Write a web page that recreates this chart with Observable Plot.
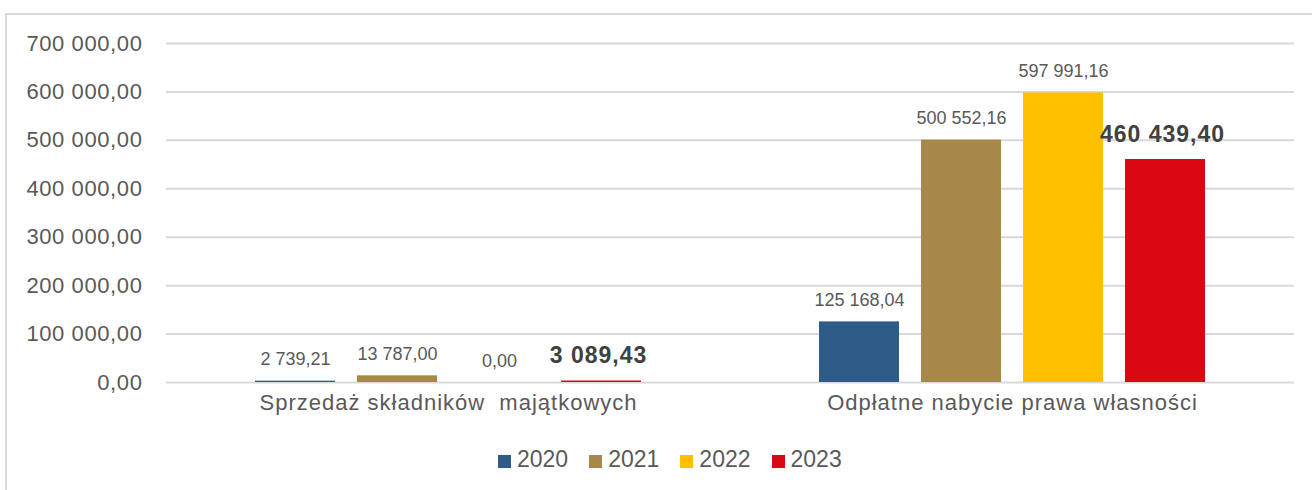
<!DOCTYPE html>
<html>
<head>
<meta charset="utf-8">
<script src="https://cdn.jsdelivr.net/npm/d3@7"></script>
<script src="https://cdn.jsdelivr.net/npm/@observablehq/plot@0.6"></script>
<style>
  html, body { margin: 0; padding: 0; background: #fff; }
  body { width: 1312px; height: 490px; position: relative; overflow: hidden; font-family: "Liberation Sans", Arial, sans-serif; }
  #frame { position: absolute; left: 5px; top: 13px; right: -10px; bottom: -10px; border-top: 2px solid #d9d9d9; border-left: 2px solid #d9d9d9; }
  #chart { position: absolute; left: 0; top: 0; }
  #chart svg text { white-space: pre; }
  .yax text { letter-spacing: 0.6px; }
  .fxax text { letter-spacing: 1px; }
  .boldlab text { letter-spacing: 1px; }
  #legend { position: absolute; left: 498px; top: 448px; display: flex; font-size: 23px; line-height: 23px; color: #595959; }
  #legend .item { display: flex; align-items: center; margin-right: 21px; }
  #legend .sw { width: 13px; height: 13px; margin-right: 6px; margin-top: 3px; }
</style>
</head>
<body>
<div id="frame"></div>
<div id="chart"></div>
<div id="legend"></div>
<script>
const groups = ["Sprzedaż składników  majątkowych", "Odpłatne nabycie prawa własności"];
const years = ["2020", "2021", "2022", "2023"];
const v2020 = [2739.21, 125168.04];
const v2021 = [13787.00, 500552.16];
const v2022 = [0.00, 597991.16];
const v2023 = [3089.43, 460439.40];
const yTicks = [0, 100000, 200000, 300000, 400000, 500000, 600000, 700000];
const colors = ["#2e5b87", "#a8884a", "#ffc000", "#da0812"];

const series = [v2020, v2021, v2022, v2023];
const data = [];
years.forEach((yr, i) => groups.forEach((g, j) => data.push({group: g, year: yr, value: series[i][j]})));
const normal = data.filter(d => d.year !== "2023");
const bold = data.filter(d => d.year === "2023");

const pl = d3.formatLocale({decimal: ",", thousands: "\u00a0", grouping: [3], currency: ["", ""]});
const fmt = pl.format(",.2f");

const chart = Plot.plot({
  width: 1312,
  height: 440,
  marginLeft: 166,
  marginRight: 18,
  marginTop: 43,
  marginBottom: 58,
  style: {fontFamily: "'Liberation Sans', Arial, sans-serif", background: "transparent"},
  fx: {domain: groups, padding: 0},
  x: {domain: years, paddingInner: 0.215, paddingOuter: 0.85, axis: null},
  y: {domain: [0, 700000], axis: null},
  color: {domain: years, range: colors},
  marks: [
    Plot.gridY(yTicks, {stroke: "#d9d9d9", strokeOpacity: 1, strokeWidth: 2}),
    Plot.axisY(yTicks, {tickSize: 0, tickPadding: 24, fontSize: 22, fill: "#595959", tickFormat: fmt, label: null, className: "yax"}),
    Plot.axisFx({anchor: "bottom", tickSize: 0, tickPadding: 12, fontSize: 22, fill: "#595959", label: null, className: "fxax"}),
    Plot.barY(data, {fx: "group", x: "year", y: "value", fill: "year"}),
    Plot.text(normal, {fx: "group", x: "year", y: "value", text: d => fmt(d.value), dy: -16, lineAnchor: "bottom", fontSize: 18, fill: "#595959"}),
    Plot.text(bold, {fx: "group", x: "year", y: "value", text: d => fmt(d.value), dy: -18, dx: -3, lineAnchor: "bottom", fontSize: 23, fontWeight: "bold", fill: "#404040", className: "boldlab"})
  ]
});
document.getElementById("chart").appendChild(chart);

const legend = document.getElementById("legend");
years.forEach((yr, i) => {
  const it = document.createElement("div");
  it.className = "item";
  const sw = document.createElement("span");
  sw.className = "sw";
  sw.style.background = colors[i];
  const t = document.createElement("span");
  t.textContent = yr;
  it.appendChild(sw);
  it.appendChild(t);
  legend.appendChild(it);
});
</script>
</body>
</html>
